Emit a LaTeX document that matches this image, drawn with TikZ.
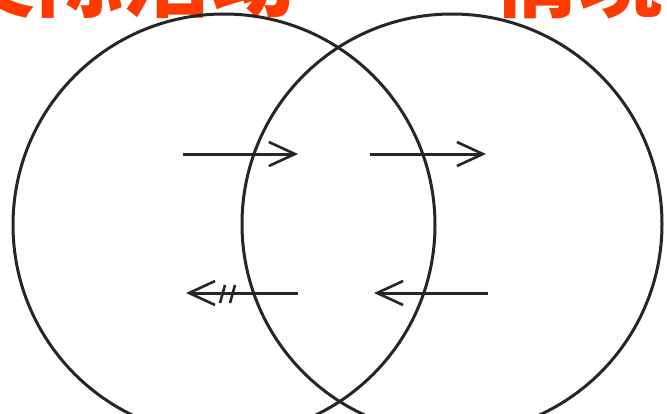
\documentclass[tikz,border=0pt]{standalone}
\usepackage{fontspec}
\newfontfamily\cjk{Noto Sans CJK SC}
\usetikzlibrary{arrows.meta}
\definecolor{titlered}{HTML}{FF3A00}
\tikzset{
  ring/.style={line width=3pt, draw=black!85},
  flow/.style={line width=3pt, draw=black!85, -{Straight Barb[length=26pt,width=24pt,line width=2.6pt]}},
  tick/.style={line width=2.6pt, draw=black!85},
  title/.style={text=titlered, font=\cjk\bfseries\fontsize{86pt}{86pt}\selectfont, inner sep=0pt}
}
\begin{document}
\begin{tikzpicture}[x=1pt,y=-1pt]
  \useasboundingbox (0,0) rectangle (667,413);
  \fill[white] (0,0) rectangle (667,413);
  \clip (0,0) rectangle (667,413);
  % titles (cut at the top edge)
  \node[title, anchor=base east] (tl) at (296,10) {交际活动};
  \node[title, anchor=base west] (tr) at (492,10) {情境};
  % circles
  \coordinate (cl) at (224,225);
  \coordinate (cr) at (452,224);
  \draw[ring] (cl) circle[radius=211];
  \draw[ring] (cr) circle[radius=210];
  % arrows
  \coordinate (a1s) at (183,154); \coordinate (a1e) at (298,154);
  \coordinate (a2s) at (370,154); \coordinate (a2e) at (486,154);
  \coordinate (b1s) at (298,293); \coordinate (b1e) at (186,293);
  \coordinate (b2s) at (488,293); \coordinate (b2e) at (374,293);
  \draw[flow] (a1s) -- (a1e);
  \draw[flow] (a2s) -- (a2e);
  \draw[flow] (b1s) -- (b1e);
  \draw[flow] (b2s) -- (b2e);
  % blocking slashes on the lower-left arrow
  \coordinate (s1a) at (225,285); \coordinate (s1b) at (220,303);
  \coordinate (s2a) at (235,285); \coordinate (s2b) at (230,303);
  \draw[tick] (s1a) -- (s1b);
  \draw[tick] (s2a) -- (s2b);
\end{tikzpicture}
\end{document}
